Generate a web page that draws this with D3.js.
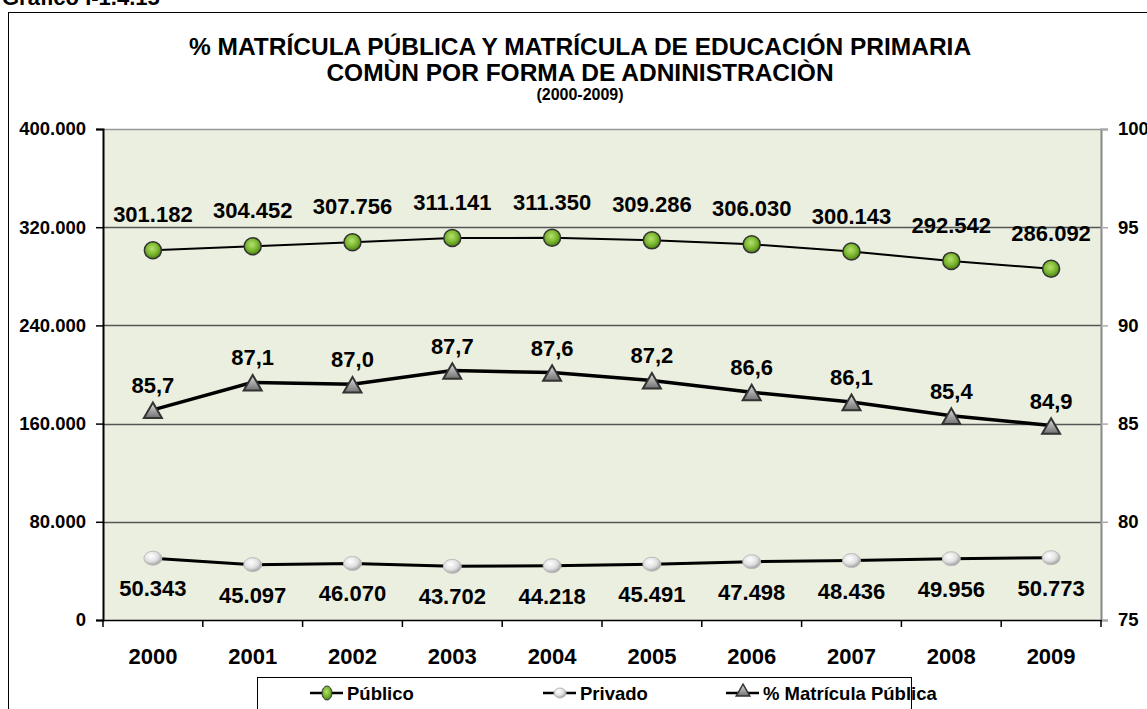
<!DOCTYPE html>
<html lang="es">
<head>
<meta charset="utf-8">
<title>% Matrícula pública</title>
<script src="https://cdn.jsdelivr.net/npm/d3@7"></script>
<style>
	body { margin: 0; background: #fff; }
	svg text { font-family: "Liberation Sans", Arial, sans-serif; font-weight: bold; fill: #000; }
</style>
</head>
<body>
<div id="chart"></div>
<script>
// data
var years = ["2000","2001","2002","2003","2004","2005","2006","2007","2008","2009"];
var publico = [301182, 304452, 307756, 311141, 311350, 309286, 306030, 300143, 292542, 286092];
var privado = [50343, 45097, 46070, 43702, 44218, 45491, 47498, 48436, 49956, 50773];
var pctPublica = [85.7, 87.1, 87.0, 87.7, 87.6, 87.2, 86.6, 86.1, 85.4, 84.9];
var leftTicks = [0, 80000, 160000, 240000, 320000, 400000];
var rightTicks = [75, 80, 85, 90, 95, 100];

var w = 1147, h = 709;
var plotL = 103, plotR = 1101, plotT = 129, plotB = 620;

var svg = d3.select("#chart").append("svg").attr("width", w).attr("height", h);

var defs = svg.append("defs");
var gGreen = defs.append("radialGradient").attr("id", "gGreen").attr("cx", "45%").attr("cy", "40%").attr("r", "60%");
gGreen.append("stop").attr("offset", "0%").attr("stop-color", "#b6e070");
gGreen.append("stop").attr("offset", "60%").attr("stop-color", "#78b52c");
gGreen.append("stop").attr("offset", "100%").attr("stop-color", "#4c7d18");
var gWhite = defs.append("radialGradient").attr("id", "gWhite").attr("cx", "40%").attr("cy", "35%").attr("r", "65%");
gWhite.append("stop").attr("offset", "0%").attr("stop-color", "#ffffff");
gWhite.append("stop").attr("offset", "60%").attr("stop-color", "#e0e0e0");
gWhite.append("stop").attr("offset", "100%").attr("stop-color", "#a0a0a0");
var gTri = defs.append("linearGradient").attr("id", "gTri").attr("x1", "0").attr("y1", "0").attr("x2", "0").attr("y2", "1");
gTri.append("stop").attr("offset", "0%").attr("stop-color", "#e0e0e0");
gTri.append("stop").attr("offset", "100%").attr("stop-color", "#707070");

// outer frame and heading
svg.append("rect").attr("x", 8.5).attr("y", 12.5).attr("width", 1150).attr("height", 710)
	.attr("fill", "#fff").attr("stroke", "#000").attr("stroke-width", 1);
svg.append("text").attr("x", 2).attr("y", 5).attr("font-size", 22).text("Gráfico I-1.4.15");

svg.append("text").attr("x", 580).attr("y", 55).attr("text-anchor", "middle").attr("font-size", 24.5)
	.text("% MATRÍCULA PÚBLICA Y MATRÍCULA DE EDUCACIÓN  PRIMARIA");
svg.append("text").attr("x", 580).attr("y", 81).attr("text-anchor", "middle").attr("font-size", 24.5)
	.text("COMÙN POR FORMA DE ADNINISTRACIÒN");
svg.append("text").attr("x", 580).attr("y", 100).attr("text-anchor", "middle").attr("font-size", 16)
	.text("(2000-2009)");

// scales
var x = d3.scaleBand().domain(years).range([plotL, plotR]);
var y = d3.scaleLinear().domain([0, 400000]).range([plotB, plotT]);
var y2 = d3.scaleLinear().domain([75, 100]).range([plotB, plotT]);
var cx = function(d, i) { return x(years[i]) + x.bandwidth() / 2; };

svg.append("rect").attr("x", plotL).attr("y", plotT).attr("width", plotR - plotL).attr("height", plotB - plotT)
	.attr("fill", "#ebefdf");

// gridlines
svg.selectAll("line.grid").data(leftTicks.slice(1)).enter().append("line")
	.attr("class", "grid")
	.attr("x1", plotL).attr("x2", plotR)
	.attr("y1", function(d) { return Math.round(y(d)) + 0.5; })
	.attr("y2", function(d) { return Math.round(y(d)) + 0.5; })
	.attr("stroke", function(d, i) { return i == 4 ? "#999" : "#555"; }).attr("stroke-width", 1.5);

// axes
var fmt = function(d) { return d3.format(",")(d).replace(/,/g, "."); };
var yAxis = svg.append("g").attr("transform", "translate(" + plotL + ",0)")
	.call(d3.axisLeft(y).tickValues(leftTicks).tickFormat(fmt).tickSize(7).tickPadding(10));
yAxis.select(".domain").attr("stroke", "#000").attr("stroke-width", 2);
yAxis.selectAll(".tick line").attr("stroke-width", 1.5);
yAxis.selectAll("text").attr("font-size", 18.5).attr("font-family", null);

var y2Axis = svg.append("g").attr("transform", "translate(" + plotR + ",0)")
	.call(d3.axisRight(y2).tickValues(rightTicks).tickSize(7).tickPadding(10));
y2Axis.select(".domain").attr("stroke", "#888").attr("stroke-width", 2);
y2Axis.selectAll(".tick line").attr("stroke", "#aaa").attr("stroke-width", 1.5);
y2Axis.selectAll("text").attr("font-size", 18.5).attr("font-family", null);

var xAxis = svg.append("g").attr("transform", "translate(0," + plotB + ")")
	.call(d3.axisBottom(x).tickSize(0).tickPadding(28));
xAxis.select(".domain").attr("stroke", "#000").attr("stroke-width", 1.5);
xAxis.selectAll("text").attr("font-size", 22).attr("font-family", null);
svg.selectAll("line.xt").data(d3.range(years.length + 1)).enter().append("line")
	.attr("class", "xt")
	.attr("x1", function(d) { return plotL + d * x.bandwidth(); })
	.attr("x2", function(d) { return plotL + d * x.bandwidth(); })
	.attr("y1", plotB).attr("y2", plotB + 7)
	.attr("stroke", "#000").attr("stroke-width", 1.5);

// lines
var lineLeft = d3.line().x(cx).y(function(d) { return y(d); });
var linePct = d3.line().x(cx).y(function(d) { return y2(d); });
svg.append("path").datum(publico).attr("d", lineLeft).attr("fill", "none").attr("stroke", "#000").attr("stroke-width", 2);
svg.append("path").datum(privado).attr("d", lineLeft).attr("fill", "none").attr("stroke", "#000").attr("stroke-width", 3);
svg.append("path").datum(pctPublica).attr("d", linePct).attr("fill", "none").attr("stroke", "#000").attr("stroke-width", 3.5);

// markers
svg.selectAll("circle.pub").data(publico).enter().append("circle")
	.attr("cx", cx).attr("cy", function(d) { return y(d); }).attr("r", 8.5)
	.attr("fill", "url(#gGreen)").attr("stroke", "#333").attr("stroke-width", 1.5);
svg.selectAll("ellipse.pri").data(privado).enter().append("ellipse")
	.attr("cx", cx).attr("cy", function(d) { return y(d); }).attr("rx", 9).attr("ry", 7)
	.attr("fill", "url(#gWhite)").attr("stroke", "#bbb").attr("stroke-width", 1);
// the triangles sit a little below the line point, as in the original
svg.selectAll("path.tri").data(pctPublica).enter().append("path")
	.attr("d", d3.symbol().type(d3.symbolTriangle).size(140))
	.attr("transform", function(d, i) { return "translate(" + cx(d, i) + "," + (y2(d) + 3) + ")"; })
	.attr("fill", "url(#gTri)").attr("stroke", "#333").attr("stroke-width", 2);

// data labels
var fmtPct = function(d) { return d.toFixed(1).replace(".", ","); };
svg.selectAll("text.lpub").data(publico).enter().append("text")
	.attr("x", cx).attr("y", function(d) { return y(d) - 28; }).attr("text-anchor", "middle")
	.attr("font-size", 22).text(fmt);
svg.selectAll("text.lpri").data(privado).enter().append("text")
	.attr("x", cx).attr("y", function(d) { return y(d) + 38; }).attr("text-anchor", "middle")
	.attr("font-size", 22).text(fmt);
svg.selectAll("text.lpct").data(pctPublica).enter().append("text")
	.attr("x", cx).attr("y", function(d) { return y2(d) - 17; }).attr("text-anchor", "middle")
	.attr("font-size", 22).text(fmtPct);

// legend
svg.append("rect").attr("x", 257.5).attr("y", 677.5).attr("width", 654).attr("height", 40)
	.attr("fill", "#fff").attr("stroke", "#000").attr("stroke-width", 1);
var legend = [
	{ name: "Público", x: 310, kind: "pub" },
	{ name: "Privado", x: 543, kind: "pri" },
	{ name: "% Matrícula Pública", x: 726, kind: "pct" }
];
var lg = svg.selectAll("g.leg").data(legend).enter().append("g")
	.attr("transform", function(d) { return "translate(" + d.x + ",693)"; });
lg.append("line").attr("x1", 0).attr("x2", 33).attr("y1", 0).attr("y2", 0).attr("stroke", "#000").attr("stroke-width", 2.5);
lg.each(function(d) {
	var g = d3.select(this);
	if (d.kind == "pub") g.append("ellipse").attr("cx", 17).attr("cy", 0).attr("rx", 5).attr("ry", 7).attr("fill", "url(#gGreen)").attr("stroke", "#333");
	if (d.kind == "pri") g.append("ellipse").attr("cx", 17).attr("cy", 0).attr("rx", 6).attr("ry", 5).attr("fill", "url(#gWhite)").attr("stroke", "#bbb");
	if (d.kind == "pct") g.append("path").attr("d", d3.symbol().type(d3.symbolTriangle).size(80))
		.attr("transform", "translate(17,-1)").attr("fill", "url(#gTri)").attr("stroke", "#333").attr("stroke-width", 1.5);
});
lg.append("text").attr("x", 37).attr("y", 7).attr("font-size", 18.5).text(function(d) { return d.name; });
</script>
</body>
</html>
